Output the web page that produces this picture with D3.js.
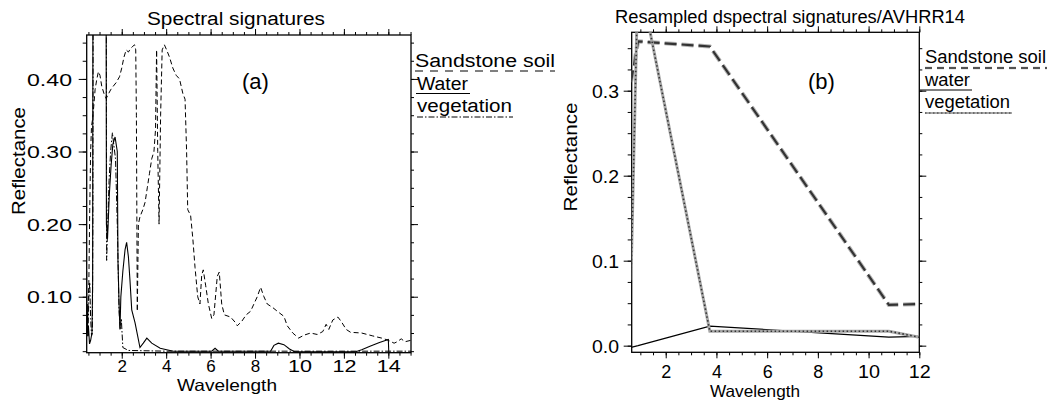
<!DOCTYPE html>
<html>
<head>
<meta charset="utf-8">
<script src="https://cdn.jsdelivr.net/npm/d3@7"></script>
<style>
  body { margin: 0; background: #fff; }
  svg text { font-family: "Liberation Sans", Arial, sans-serif; fill: #000; }
</style>
</head>
<body>
<svg id="chart" width="1051" height="400"></svg>
<script>
// Panel (a): full spectra, [wavelength (µm), reflectance]
const soilA = [[0.42,0.05],[0.47,0.07],[0.52,0.12],[0.56,0.22],[0.6,0.3],[0.64,0.335],[0.69,0.345],[0.74,0.362],
  [0.8,0.385],[0.88,0.4],[0.95,0.41],[1.02,0.405],[1.1,0.39],[1.2,0.38],[1.3,0.373],[1.38,0.378],[1.5,0.385],
  [1.62,0.39],[1.75,0.395],[1.9,0.403],[2.0,0.415],[2.1,0.43],[2.2,0.44],[2.3,0.437],[2.4,0.442],[2.5,0.445],
  [2.58,0.447],[2.63,0.44],[2.66,0.35],[2.7,0.08],[2.75,0.2],[2.82,0.21],[2.95,0.22],[3.05,0.23],[3.15,0.25],
  [3.25,0.27],[3.35,0.29],[3.45,0.3],[3.52,0.33],[3.57,0.44],[3.62,0.3],[3.68,0.2],[3.75,0.35],[3.82,0.44],
  [3.92,0.447],[4.02,0.44],[4.15,0.43],[4.3,0.415],[4.45,0.405],[4.6,0.4],[4.75,0.38],[4.85,0.372],[4.92,0.3],
  [4.97,0.22],[5.1,0.212],[5.2,0.18],[5.3,0.14],[5.42,0.1],[5.52,0.09],[5.6,0.13],[5.67,0.137],[5.78,0.115],
  [5.9,0.09],[6.05,0.07],[6.15,0.075],[6.3,0.128],[6.39,0.134],[6.5,0.09],[6.62,0.075],[6.9,0.072],[7.1,0.065],
  [7.2,0.06],[7.4,0.066],[7.6,0.075],[7.8,0.08],[7.95,0.09],[8.1,0.1],[8.25,0.113],[8.4,0.1],[8.55,0.09],
  [8.8,0.085],[9.0,0.08],[9.3,0.073],[9.45,0.06],[9.7,0.05],[9.96,0.043],[10.2,0.047],[10.5,0.05],[10.8,0.048],
  [11.05,0.052],[11.2,0.062],[11.32,0.055],[11.5,0.068],[11.73,0.072],[11.9,0.065],[12.1,0.055],[12.3,0.051],
  [12.8,0.05],[13.3,0.046],[13.7,0.043],[14.0,0.04],[14.26,0.036],[14.4,0.038],[14.58,0.042],[14.75,0.038],[15.02,0.04]];
const waterA = [[0.42,0.135],[0.43,0.05],[0.45,0.09],[0.47,0.046],[0.5,0.06],[0.55,0.035],[0.6,0.04],[0.66,0.05],
  [0.69,0.12],[0.71,0.7],[1.29,0.7],[1.31,0.2],[1.36,0.18],[1.44,0.24],[1.52,0.28],[1.6,0.31],[1.7,0.32],[1.8,0.3],
  [1.83,0.15],[1.88,0.09],[1.92,0.055],[1.96,0.1],[2.05,0.135],[2.15,0.165],[2.22,0.175],[2.3,0.155],[2.37,0.123],
  [2.45,0.082],[2.6,0.064],[2.82,0.03],[2.97,0.036],[3.13,0.043],[3.35,0.036],[3.73,0.029],[4.32,0.025],
  [6.05,0.025],[6.2,0.029],[6.35,0.025],[8.7,0.025],[8.85,0.033],[9.05,0.036],[9.3,0.034],[9.55,0.028],
  [9.8,0.024],[12.5,0.024],[12.8,0.027],[13.2,0.032],[13.6,0.037],[14.0,0.041],[14.02,0.023],[15.02,0.023]];
const vegA = [[0.42,0.05],[0.45,0.07],[0.48,0.045],[0.52,0.1],[0.56,0.12],[0.6,0.07],[0.64,0.046],[0.68,0.05],
  [0.7,0.2],[0.72,0.7],[1.3,0.7],[1.32,0.15],[1.37,0.2],[1.43,0.26],[1.5,0.3],[1.58,0.326],[1.64,0.31],
  [1.72,0.29],[1.8,0.2],[1.88,0.08],[1.93,0.055],[1.98,0.07],[2.05,0.03],[2.3,0.026],[4.0,0.025],[8.0,0.025],
  [12.0,0.025],[15.02,0.025]];

// Panel (b): AVHRR band centres and resampled reflectance
const bandsB = [0.63, 0.91, 3.74, 10.8, 12.0];
const soilB = [0.31, 0.358, 0.352, 0.048, 0.049];
const waterB = [-0.002, 0.0, 0.023, 0.010, 0.011];
const vegB = [0.077, 0.44, 0.017, 0.017, 0.010];

// tick labels
const xTicksA = [2, 4, 6, 8, 10, 12, 14];
const yTicksA = [0.10, 0.20, 0.30, 0.40];
const xTicksB = [2, 4, 6, 8, 10, 12];
const yTicksB = [0.0, 0.1, 0.2, 0.3];
const legendNamesA = ['Sandstone soil', 'Water', 'vegetation'];
const legendNamesB = ['Sandstone soil', 'water', 'vegetation'];

const svg = d3.select('#chart');

function drawPanel(p) {
  const x = d3.scaleLinear().domain(p.xDomain).range([p.left, p.right]);
  const y = d3.scaleLinear().domain(p.yDomain).range([p.bottom, p.top]);
  const g = svg.append('g');

  g.append('clipPath').attr('id', 'clip-' + p.id)
    .append('rect')
    .attr('x', p.left).attr('y', p.top)
    .attr('width', p.right - p.left).attr('height', p.bottom - p.top);

  // minor ticks every 0.5 µm and every 0.025 reflectance
  const xMinor = d3.range(Math.ceil(p.xDomain[0] * 2) / 2, p.xDomain[1] + 1e-6, 0.5);
  const yMinor = d3.range(Math.ceil(p.yDomain[0] * 40) / 40, p.yDomain[1], 0.025);

  const tickSets = [
    [d3.axisBottom, x, [0, p.bottom], xMinor, 3, false],
    [d3.axisBottom, x, [0, p.bottom], p.xTicks, 6, true],
    [d3.axisTop, x, [0, p.top], xMinor, 3, false],
    [d3.axisTop, x, [0, p.top], p.xTicks, 6, false],
    [d3.axisLeft, y, [p.left, 0], yMinor, 4, false],
    [d3.axisLeft, y, [p.left, 0], p.yTicks, 8, true],
    [d3.axisRight, y, [p.right, 0], yMinor, 3, false],
    [d3.axisRight, y, [p.right, 0], p.yTicks, 7, false]
  ];

  tickSets.forEach(([make, scale, pos, values, size, labels]) => {
    const isX = scale === x;
    const axis = make(scale).tickValues(values).tickSize(size)
      .tickFormat(labels ? (isX ? d3.format('d') : p.yFormat) : '');
    const a = g.append('g')
      .attr('transform', `translate(${pos[0]},${pos[1]})`)
      .call(axis);
    a.attr('font-size', null).attr('font-family', null);
    a.select('.domain').remove();
    a.selectAll('line').attr('stroke', '#000').attr('stroke-width', 1);
    if (labels) {
      const t = a.selectAll('text').style('font-size', p.tickFont + 'px');
      if (isX) {
        t.attr('y', p.xLabelOffset).attr('dy', 0);
        t.filter(d => String(d).length > 1).attr('textLength', p.xLabelWidth)
          .attr('lengthAdjust', 'spacingAndGlyphs');
      } else {
        t.attr('x', p.yLabelRight - p.left).attr('dy', '0.36em')
          .attr('textLength', p.yLabelWidth).attr('lengthAdjust', 'spacingAndGlyphs');
      }
    }
  });

  // plot frame
  g.append('rect')
    .attr('x', p.left).attr('y', p.top)
    .attr('width', p.right - p.left).attr('height', p.bottom - p.top)
    .attr('fill', 'none').attr('stroke', '#000').attr('stroke-width', 1.3);

  const line = d3.line().x(d => x(d[0])).y(d => y(d[1]));
  const plot = g.append('g').attr('clip-path', `url(#clip-${p.id})`);

  p.series.forEach(s => {
    s.styles.forEach(st => {
      plot.append('path').datum(s.data)
        .attr('d', line)
        .attr('fill', 'none')
        .attr('stroke', st.color)
        .attr('stroke-width', st.width)
        .attr('stroke-dasharray', st.dash || null);
    });
  });

  // legend to the right of the frame
  p.series.forEach((s, i) => {
    const lg = p.legend[i];
    g.append('text')
      .attr('x', lg.x).attr('y', lg.y)
      .attr('textLength', lg.w).attr('lengthAdjust', 'spacingAndGlyphs')
      .style('font-size', p.legendFont + 'px')
      .text(s.name);
    s.styles.forEach(st => {
      g.append('line')
        .attr('x1', lg.x0).attr('x2', lg.x1)
        .attr('y1', lg.uy).attr('y2', lg.uy)
        .attr('stroke', st.color)
        .attr('stroke-width', st.legendWidth || st.width)
        .attr('stroke-dasharray', st.legendDash || st.dash || null);
    });
  });

  // title, axis titles, panel tag
  g.append('text').attr('x', p.title.x).attr('y', p.title.y)
    .attr('textLength', p.title.w).attr('lengthAdjust', 'spacingAndGlyphs')
    .style('font-size', '18px').text(p.title.text);
  g.append('text').attr('x', p.xTitle.x).attr('y', p.xTitle.y)
    .attr('textLength', p.xTitle.w).attr('lengthAdjust', 'spacingAndGlyphs')
    .style('font-size', p.xTitle.size + 'px').text('Wavelength');
  g.append('text')
    .attr('transform', `translate(${p.yTitle.x},${p.yTitle.y}) rotate(-90)`)
    .attr('text-anchor', 'middle')
    .attr('textLength', p.yTitle.w).attr('lengthAdjust', 'spacingAndGlyphs')
    .style('font-size', '18px').text('Reflectance');
  g.append('text').attr('x', p.tag.x).attr('y', p.tag.y)
    .style('font-size', '22px').text(p.tag.text);
}

drawPanel({
  id: 'a',
  left: 86.7, right: 411, top: 35, bottom: 352.7,
  xDomain: [0.423, 15.02], yDomain: [0.0229, 0.4605],
  xTicks: xTicksA, yTicks: yTicksA, yFormat: d3.format('.2f'),
  tickFont: 17, xLabelOffset: 19.5, xLabelWidth: 24, yLabelRight: 72, yLabelWidth: 45,
  legendFont: 18,
  series: [
    { name: legendNamesA[0], data: soilA, styles: [{ color: '#000', width: 1, dash: '5,3', legendDash: '8,7' }] },
    { name: legendNamesA[1], data: waterA, styles: [{ color: '#000', width: 1.1 }] },
    { name: legendNamesA[2], data: vegA, styles: [{ color: '#000', width: 1, dash: '6,2,1.5,2' }] }
  ],
  legend: [
    { x: 415, y: 67, w: 140, x0: 415, x1: 555, uy: 71 },
    { x: 417, y: 90, w: 51, x0: 416, x1: 470, uy: 93.5 },
    { x: 417, y: 112, w: 95, x0: 417, x1: 513, uy: 117 }
  ],
  title: { text: 'Spectral signatures', x: 147, y: 25, w: 178 },
  xTitle: { x: 177, y: 391, w: 100, size: 16.5 },
  yTitle: { x: 25, y: 161, w: 108 },
  tag: { text: '(a)', x: 242, y: 89 }
});

drawPanel({
  id: 'b',
  left: 631.7, right: 919.3, top: 32.3, bottom: 352.3,
  xDomain: [0.659, 12.0], yDomain: [-0.0078, 0.3687],
  xTicks: xTicksB, yTicks: yTicksB, yFormat: d3.format('.1f'),
  tickFont: 18, xLabelOffset: 25.5, xLabelWidth: 22, yLabelRight: 619, yLabelWidth: 27,
  legendFont: 17.5,
  series: [
    { name: legendNamesB[0], data: d3.zip(bandsB, soilB),
      styles: [{ color: '#b5b5b5', width: 4.2, dash: '12,5', legendDash: '7,5', legendWidth: 2.6 },
               { color: '#333', width: 2.2, dash: '12,5', legendDash: '7,5', legendWidth: 1.3 }] },
    { name: legendNamesB[1], data: d3.zip(bandsB, waterB), styles: [{ color: '#000', width: 1.2 }] },
    { name: legendNamesB[2], data: d3.zip(bandsB, vegB),
      styles: [{ color: '#a8a8a8', width: 3, legendWidth: 2 },
               { color: '#333', width: 1.6, dash: '1.5,2.5', legendWidth: 1.2 }] }
  ],
  legend: [
    { x: 925, y: 63, w: 121, x0: 925, x1: 1047, uy: 68 },
    { x: 925, y: 86, w: 45, x0: 920, x1: 972, uy: 90 },
    { x: 925, y: 108, w: 85, x0: 925, x1: 1012, uy: 113 }
  ],
  title: { text: 'Resampled dspectral signatures/AVHRR14', x: 615, y: 23, w: 350 },
  xTitle: { x: 710, y: 397, w: 90, size: 16.5 },
  yTitle: { x: 577, y: 157, w: 109 },
  tag: { text: '(b)', x: 808, y: 89 }
});
</script>
</body>
</html>
